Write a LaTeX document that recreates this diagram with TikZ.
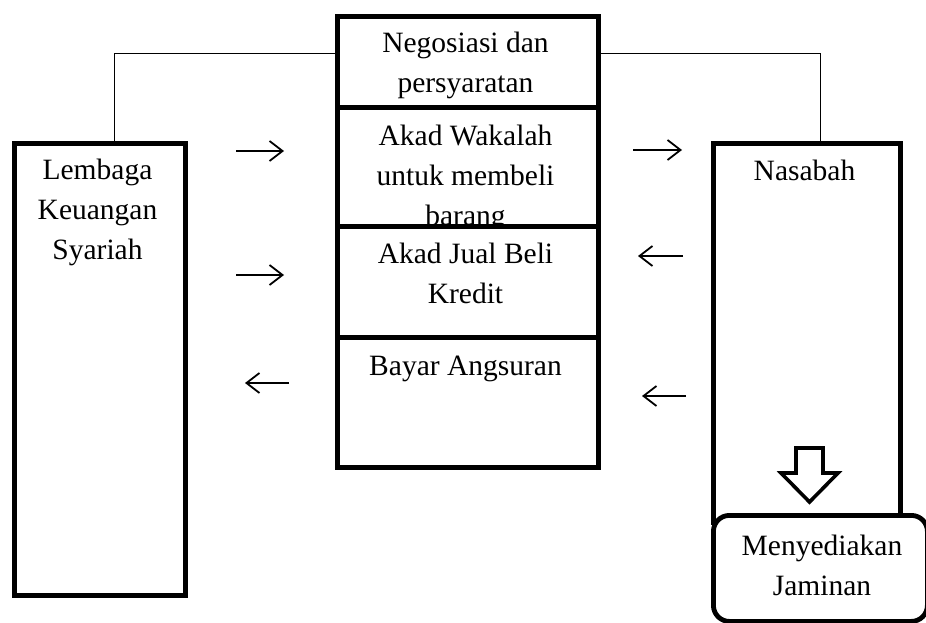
\documentclass[tikz,border=0pt]{standalone}
\usepackage{fontspec}
\setmainfont{Liberation Serif}
\usetikzlibrary{arrows.meta}
\begin{document}
\begin{tikzpicture}[x=1pt,y=-1pt,
  box/.style={draw, line width=4.8pt, fill=white, inner sep=0pt, anchor=north west},
  rbox/.style={box, rounded corners=16pt},
  txt/.style={anchor=north, inner sep=0pt, align=center, font=\fontsize{29.5}{40}\selectfont},
  link/.style={line width=1.5pt},
  flow/.style={line width=1.8pt, -{Straight Barb[length=13pt,width=20pt,line width=1.8pt]}},
  fat/.style={line width=3.6pt, line join=miter}]
\useasboundingbox (0,0) rectangle (926,623);

% left box
\node[box, minimum width=171pt, minimum height=452pt] (lks) at (12,141) {};
\node[txt] (lkst) at (97.5,151) {\strut Lembaga\\Keuangan\\Syariah};

% right box
\node[box, minimum width=187pt, minimum height=379pt] (nas) at (711,141) {};
\node[txt] (nast) at (804.5,152) {\strut Nasabah};

% centre column
\node[box, minimum width=261pt, minimum height=91pt] (neg) at (335,14) {};
\node[txt] (negt) at (465.5,24) {\strut Negosiasi dan\\persyaratan};
\node[box, minimum width=261pt, minimum height=119pt] (wak) at (335,105) {};
\node[txt] (wakt) at (465.5,117) {\strut Akad Wakalah\\untuk membeli\\barang};
\node[box, minimum width=261pt, minimum height=111pt] (jb) at (335,224) {};
\node[txt] (jbt) at (465.5,235) {\strut Akad Jual Beli\\Kredit};
\node[box, minimum width=261pt, minimum height=130pt] (ba) at (335,335) {};
\node[txt] (bat) at (465.5,347) {\strut Bayar Angsuran};

% links
\draw[link] ([xshift=14.5pt]lks.north) |- ([yshift=8.5pt]neg.west);
\draw[link] ([xshift=13.5pt]nas.north) |- ([yshift=8.5pt]neg.east);

% flow arrows
\coordinate (a1s) at (236,151); \coordinate (a1e) at (284,151);
\coordinate (a2s) at (236,275); \coordinate (a2e) at (284,275);
\coordinate (a3s) at (289,383); \coordinate (a3e) at (245,383);
\coordinate (b1s) at (633,150); \coordinate (b1e) at (682,150);
\coordinate (b2s) at (683,256); \coordinate (b2e) at (638,256);
\coordinate (b3s) at (686,396); \coordinate (b3e) at (642,396);
\draw[flow] (a1s) -- (a1e);
\draw[flow] (a2s) -- (a2e);
\draw[flow] (a3s) -- (a3e);
\draw[flow] (b1s) -- (b1e);
\draw[flow] (b2s) -- (b2e);
\draw[flow] (b3s) -- (b3e);

% jaminan
\node[rbox, minimum width=214pt, minimum height=106pt] (jam) at (711,513) {};
\node[txt] (jamt) at (822,527) {\strut Menyediakan\\Jaminan};

% block arrow
\draw[fat, fill=white] (796,448) -- (823,448) -- (823,473) -- (838,473) -- (809.5,502)
  -- (781,473) -- (796,473) -- cycle;
\end{tikzpicture}
\end{document}
